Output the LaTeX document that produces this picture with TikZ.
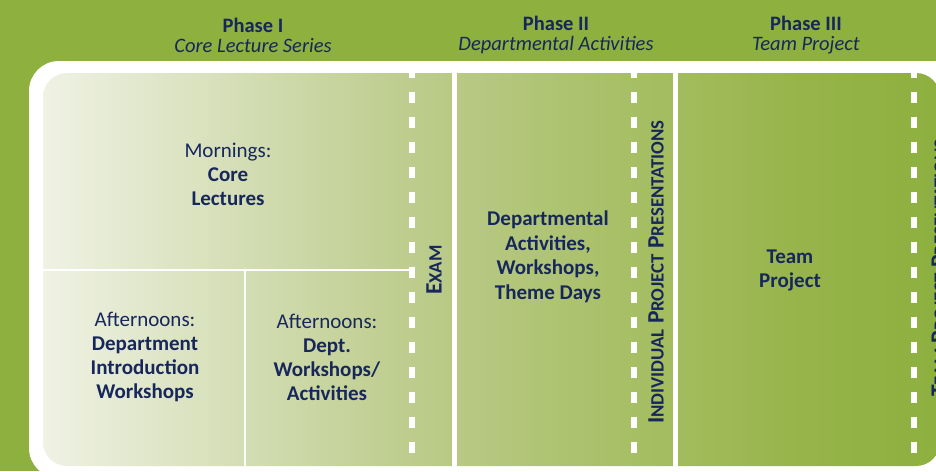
\documentclass[tikz,border=0pt]{standalone}
\usepackage{fontspec}
\setmainfont{Carlito}
\usepackage{xcolor}
\usepackage{tikz}
\usetikzlibrary{positioning,calc}

\definecolor{phasegreen}{HTML}{8DB03F}
\definecolor{palegreen}{HTML}{EFF2E4}
\definecolor{fadeA}{HTML}{C1CF93}
\definecolor{fadeB}{HTML}{B8C985}
\definecolor{fadeC}{HTML}{A7BF65}
\definecolor{fadeD}{HTML}{97B44A}
\definecolor{navy}{HTML}{17275C}

\pgfdeclarehorizontalshading{phasefade}{100bp}{color(0bp)=(palegreen); color(25bp)=(palegreen);
  color(43.8bp)=(fadeA); color(48bp)=(fadeB); color(57.7bp)=(fadeC); color(67.2bp)=(fadeD);
  color(75bp)=(phasegreen); color(100bp)=(phasegreen)}

\newcommand{\fakesc}[2]{#1{\fontsize{18.8}{19}\selectfont #2}}

\begin{document}
\begin{tikzpicture}[
    x=1pt, y=-1pt,
    headtext/.style={align=center, text=navy, font=\fontsize{20.5}{20}\selectfont},
    celltext/.style={align=center, text=navy, font=\fontsize{21}{24}\selectfont},
    sidetext/.style={rotate=90, text=navy, inner sep=0pt, font=\fontsize{23.5}{24}\selectfont\bfseries},
    divider/.style={white, line width=2.5pt},
    wall/.style={white, line width=5pt},
    gate/.style={white, line width=6pt, dash pattern=on 11.6pt off 13.4pt}
]
\useasboundingbox (0,0) rectangle (936,471);
\clip (0,0) rectangle (936,471);
\fill[phasegreen] (0,0) rectangle (936,471);
\fill[white, rounded corners=30pt] (29,61) rectangle (990,478);
\shade[shading=phasefade, rounded corners=24pt] (43,73) rectangle (940,466);

\node[headtext] (phase1) at (253,35) {\textbf{Phase I}\\\textit{Core Lecture Series}};
\node[headtext] (phase2) at (556,35) {\textbf{Phase II}\\\textit{Departmental Activities}};
\node[headtext] (phase3) at (806,35) {\textbf{Phase III}\\\textit{Team Project}};

\coordinate (split) at (43,270);
\coordinate (splitend) at (412,270);
\coordinate (subtop) at (245,270);
\coordinate (subbot) at (245,466);
\draw[divider] (split) -- (splitend);
\draw[divider] (subtop) -- (subbot);
\draw[gate] (412,66.7) -- (412,471);
\draw[wall] (454.5,73) -- (454.5,471);
\draw[gate] (633.5,66.7) -- (633.5,471);
\draw[wall] (675,73) -- (675,471);
\draw[gate] (914,66.7) -- (914,471);

\node[celltext] (mornings) at (228,174) {Mornings:\\\textbf{Core}\\\textbf{Lectures}};
\node[celltext] (aftintro) at (145,357) {Afternoons:\\\textbf{Department}\\\textbf{Introduction}\\\textbf{Workshops}};
\node[celltext] (aftdept) at (327,357) {Afternoons:\\\textbf{Dept.}\\\textbf{Workshops/}\\\textbf{Activities}};
\node[celltext, font=\fontsize{21}{24.5}\selectfont\bfseries] (deptact) at (548,257) {Departmental\\Activities,\\Workshops,\\Theme Days};
\node[celltext, font=\fontsize{21}{24.5}\selectfont\bfseries] (team) at (790,270.5) {Team\\Project};

\node[sidetext] (exam) at (434,270) {\fakesc{E}{XAM}};
\node[sidetext] (indiv) at (656,272) {\fakesc{I}{NDIVIDUAL} \fakesc{P}{ROJECT} \fakesc{P}{RESENTATIONS}};
\node[sidetext, anchor=north] (teampres) at (931.5,268) {\fakesc{T}{EAM} \fakesc{P}{ROJECT} \fakesc{P}{RESENTATIONS}};
\end{tikzpicture}
\end{document}
